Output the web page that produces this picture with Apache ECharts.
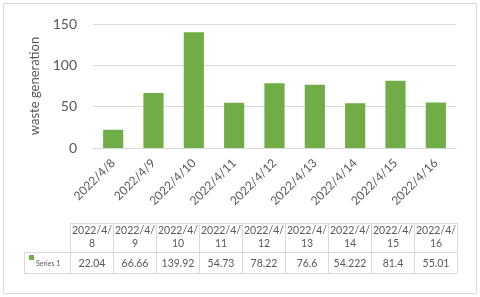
<!DOCTYPE html>
<html><head><meta charset="utf-8">
<script src="https://cdn.jsdelivr.net/npm/echarts@6/dist/echarts.min.js"></script>
<style>html,body{margin:0;padding:0;background:#fff}#c{width:480px;height:297px}</style>
</head><body><div id="c"></div>
<script>
const categories = ['2022/4/8','2022/4/9','2022/4/10','2022/4/11','2022/4/12','2022/4/13','2022/4/14','2022/4/15','2022/4/16'];
const headerLine1 = ['2022/4/','2022/4/','2022/4/','2022/4/','2022/4/','2022/4/','2022/4/','2022/4/','2022/4/'];
const headerLine2 = ['8','9','10','11','12','13','14','15','16'];
const values = [22.04, 66.66, 139.92, 54.73, 78.22, 76.6, 54.222, 81.4, 55.01];
const valueLabels = ['22.04','66.66','139.92','54.73','78.22','76.6','54.222','81.4','55.01'];
const seriesName = 'Series 1';
const yTicks = [0, 50, 100, 150];

const FONT = 'Lato, "Open Sans", sans-serif';
const TXT = '#595959';
const LINE = '#d9d9d9';
const GREEN = '#70AD47';

const tLeft = 24, tLegRight = 70, colW = 43, tTop = 223, hH = 29, rH = 21;
const graphics = [];
graphics.push({type:'rect', shape:{x:3.5,y:3.5,width:473,height:290}, style:{fill:'none',stroke:LINE,lineWidth:1}, silent:true});
const tRight = tLegRight + colW*categories.length;
graphics.push({type:'line', shape:{x1:tLegRight,y1:tTop+0.5,x2:tRight,y2:tTop+0.5}, style:{stroke:LINE,lineWidth:1}});
graphics.push({type:'line', shape:{x1:tLeft,y1:tTop+hH+0.5,x2:tRight,y2:tTop+hH+0.5}, style:{stroke:LINE,lineWidth:1}});
graphics.push({type:'line', shape:{x1:tLeft,y1:tTop+hH+rH+0.5,x2:tRight,y2:tTop+hH+rH+0.5}, style:{stroke:LINE,lineWidth:1}});
graphics.push({type:'line', shape:{x1:tLeft+0.5,y1:tTop+hH,x2:tLeft+0.5,y2:tTop+hH+rH}, style:{stroke:LINE,lineWidth:1}});
for (let i=0;i<=categories.length;i++){
  const x = tLegRight + colW*i + 0.5;
  graphics.push({type:'line', shape:{x1:x,y1:tTop,x2:x,y2:tTop+hH+rH}, style:{stroke:LINE,lineWidth:1}});
}
categories.forEach((c,i)=>{
  const cx = tLegRight + colW*i + colW/2 + 0.5;
  graphics.push({type:'text', x:cx, y:tTop+8, style:{text:headerLine1[i], fill:TXT, font:'10.5px '+FONT, align:'center', verticalAlign:'middle'}});
  graphics.push({type:'text', x:cx, y:tTop+21, style:{text:headerLine2[i], fill:TXT, font:'10.5px '+FONT, align:'center', verticalAlign:'middle'}});
  graphics.push({type:'text', x:cx, y:tTop+hH+rH/2+1, style:{text:valueLabels[i], fill:TXT, font:'10.5px '+FONT, align:'center', verticalAlign:'middle'}});
});
graphics.push({type:'rect', shape:{x:29,y:255,width:5,height:5}, style:{fill:GREEN}});
graphics.push({type:'text', x:36, y:tTop+hH+rH/2+1, style:{text:seriesName, fill:TXT, font:'7px '+FONT, align:'left', verticalAlign:'middle'}});

const chart = echarts.init(document.getElementById('c'), null, {renderer:'canvas'});
chart.setOption({
  animation:false,
  backgroundColor:'#fff',
  grid:{left:93, right:24, top:24, bottom:149, containLabel:false},
  xAxis:{type:'category', data:categories,
    axisLine:{lineStyle:{color:LINE}}, axisTick:{show:false},
    axisLabel:{rotate:45, color:TXT, fontFamily:FONT, fontSize:12, margin:13, interval:0}},
  yAxis:{type:'value', min:0, max:150, interval:50,
    name:'waste generation', nameLocation:'middle', nameGap:48, nameRotate:90,
    nameTextStyle:{color:TXT, fontFamily:FONT, fontSize:13},
    axisLine:{show:false}, axisTick:{show:false},
    axisLabel:{color:TXT, fontFamily:FONT, fontSize:14, margin:16},
    splitLine:{lineStyle:{color:LINE}}},
  series:[{type:'bar', name:seriesName, data:values, barWidth:'50%', itemStyle:{color:GREEN}}],
  graphic:graphics
});
</script></body></html>
